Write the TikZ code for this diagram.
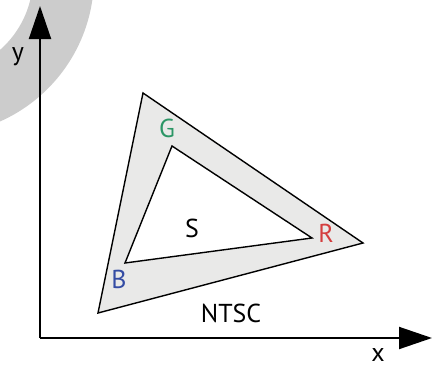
\documentclass[tikz,border=0pt]{standalone}
\usepackage{fontspec}
\setsansfont{PT Sans}
\usepackage{tikz}
\usetikzlibrary{arrows.meta}
\definecolor{ringGray}{RGB}{204,204,204}
\definecolor{gamutFill}{RGB}{233,233,232}
\definecolor{primG}{RGB}{44,150,102}
\definecolor{primR}{RGB}{212,62,62}
\definecolor{primB}{RGB}{52,76,164}

\begin{document}
\begin{tikzpicture}[
    x=1bp, y=-1bp,
    axis/.style={line width=2bp, black, -{Triangle[length=33bp, width=22bp]}},
    gamut/.style={draw=black, line width=1.4bp, line join=miter},
    lbl/.style={font=\sffamily\fontsize{26}{26}\selectfont, inner sep=0pt},
]
\useasboundingbox (0,0) rectangle (432,369);
\clip (0,0) rectangle (432,369);

% ========== background ring ==========
\fill[ringGray, even odd rule] (-64,-23) circle[radius=158] (-64,-23) circle[radius=97];

% ========== NTSC gamut (outer) and S gamut (inner) ==========
\coordinate (ntscG) at (143,93);
\coordinate (ntscR) at (363,243);
\coordinate (ntscB) at (98,313);
\coordinate (sG) at (172,146);
\coordinate (sR) at (312,238);
\coordinate (sB) at (125,263);

\draw[gamut, fill=gamutFill] (ntscG) -- (ntscR) -- (ntscB) -- cycle;
\draw[gamut, fill=white] (sG) -- (sR) -- (sB) -- cycle;

% primaries
\node[lbl, text=primG] at (167,128) (lblG) {G};
\node[lbl, text=primR] at (326,233) (lblR) {R};
\node[lbl, text=primB] at (119,279) (lblB) {B};

\node[lbl] at (192,228) (lblS) {S};
\node[lbl] at (231,313) (lblNTSC) {NTSC};

% ========== axes ==========
\coordinate (origin) at (40,338);
\coordinate (ytip) at (40,6);
\coordinate (xtip) at (432,338);
\draw[axis] (origin) -- (ytip);
\draw[axis] (origin) -- (xtip);

\node[lbl] at (18,57) (lbly) {y};
\node[lbl, anchor=base] at (378,361) (lblx) {x};

\end{tikzpicture}
\end{document}
